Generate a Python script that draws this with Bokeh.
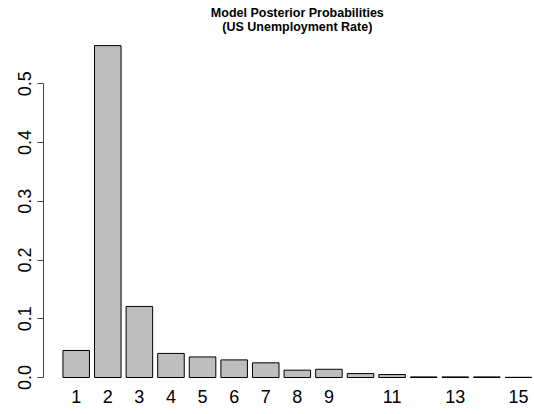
from bokeh.plotting import figure
from bokeh.models import FixedTicker, Label, Range1d, PrintfTickFormatter
from bokeh.embed import file_html
from bokeh.resources import INLINE

# ---- data ----
models = list(range(1, 16))
probs = [0.046, 0.565, 0.121, 0.041, 0.035, 0.030, 0.025, 0.0125, 0.014,
         0.0067, 0.005, 0.001, 0.001, 0.001, 0.0003]
x_tick_labels = [1, 2, 3, 4, 5, 6, 7, 8, 9, 11, 13, 15]
y_ticks = [0.0, 0.1, 0.2, 0.3, 0.4, 0.5]
title_lines = ["Model Posterior Probabilities", "(US Unemployment Rate)"]

FONT = "Liberation Sans"

p = figure(width=534, height=414, output_backend="svg", toolbar_location=None,
           title=None,
           x_range=Range1d(-0.0351, 15.508), y_range=Range1d(-0.01362, 0.6418),
           min_border_left=43, min_border_right=0, min_border_top=0,
           min_border_bottom=29)

p.vbar(x=models, top=probs, bottom=0, width=0.84,
       fill_color="#BEBEBE", line_color="black", line_width=1)

p.xgrid.visible = False
p.ygrid.visible = False
p.outline_line_color = None
p.background_fill_color = "white"
p.border_fill_color = "white"

# y axis
ya = p.yaxis[0]
ya.ticker = FixedTicker(ticks=y_ticks)
ya.bounds = (0, 0.5)
ya.formatter = PrintfTickFormatter(format="%.1f")
ya.major_label_orientation = "vertical"
ya.major_tick_out = 6
ya.major_tick_in = 0
ya.minor_tick_out = 0
ya.minor_tick_in = 0
ya.axis_line_color = "#444444"
ya.major_tick_line_color = "#444444"
ya.major_label_text_font = FONT
ya.major_label_text_font_size = "18px"
ya.major_label_text_color = "black"
ya.major_label_standoff = 6

# x axis
xa = p.xaxis[0]
xa.ticker = FixedTicker(ticks=x_tick_labels)
xa.axis_line_color = None
xa.major_tick_line_color = None
xa.minor_tick_line_color = None
xa.major_tick_out = 0
xa.major_tick_in = 0
xa.minor_tick_out = 0
xa.major_label_text_font = FONT
xa.major_label_text_font_size = "18px"
xa.major_label_text_color = "black"
xa.major_label_standoff = 4

# title: two single-line labels centred over the bars, near the top
title_center = (models[0] + models[-1]) / 2
for line, off in zip(title_lines, [-12, -26.7]):
    p.add_layout(Label(x=title_center, y=p.y_range.end, text=line,
                       text_align="center", text_baseline="middle",
                       y_offset=off, text_font=FONT,
                       text_font_style="bold", text_font_size="12.5px",
                       text_color="black"))

open("out.html", "w").write(file_html(p, INLINE))
